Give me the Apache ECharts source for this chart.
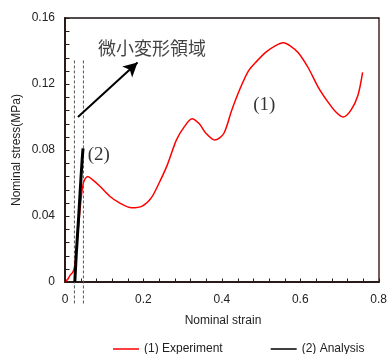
<!DOCTYPE html>
<html>
<head>
<meta charset="utf-8">
<script src="https://cdn.jsdelivr.net/npm/echarts@6/dist/echarts.min.js"></script>
<style>
  html, body { margin: 0; padding: 0; background: #fff; }
  #chart { width: 390px; height: 354px; }
</style>
</head>
<body>
<div id="chart"></div>
<script>
// Stress–strain curves: measured response and analysis in the small-strain range
const seriesNames = ['(1) Experiment', '(2) Analysis'];
const xAxisTitle = 'Nominal strain';
const yAxisTitle = 'Nominal stress(MPa)';

// (1) Experiment: [strain, stress MPa]
const experiment = [
  [0, 0], [0.008, 0.002], [0.013, 0.004], [0.02, 0.006], [0.025, 0.010],
  [0.03, 0.022], [0.035, 0.035], [0.04, 0.048], [0.045, 0.058], [0.05, 0.062],
  [0.058, 0.064], [0.07, 0.062], [0.089, 0.058], [0.114, 0.052], [0.139, 0.048],
  [0.17, 0.045], [0.197, 0.046], [0.22, 0.051], [0.24, 0.060], [0.261, 0.071],
  [0.284, 0.086], [0.304, 0.094], [0.324, 0.099], [0.342, 0.096], [0.36, 0.090],
  [0.382, 0.086], [0.405, 0.090], [0.425, 0.104], [0.448, 0.118], [0.468, 0.128],
  [0.486, 0.133], [0.511, 0.139], [0.535, 0.143], [0.557, 0.145], [0.575, 0.143],
  [0.595, 0.139], [0.62, 0.130], [0.646, 0.118], [0.671, 0.109], [0.691, 0.103],
  [0.709, 0.100], [0.729, 0.104], [0.747, 0.113], [0.759, 0.127]
];

// (2) Analysis: [strain, stress MPa]
const analysis = [
  [0.025, 0], [0.027, 0.009], [0.029, 0.018], [0.032, 0.029], [0.035, 0.040],
  [0.038, 0.052], [0.041, 0.064], [0.044, 0.075], [0.046, 0.081]
];

// Small-deformation region bounds (strain) and their drawn stress extent
const regionStrains = [0.024, 0.047];
const regionStressRange = [-0.013, 0.135];

// Arrow pointing at the region label: [strain, stress]
const arrowFrom = [0.033, 0.100];
const arrowTo = [0.185, 0.133];

// Text annotations: [strain, stress, text]
const regionLabel = [0.084, 0.142, '微小変形領域'];
const curveLabels = [[0.48, 0.107, '(1)'], [0.058, 0.077, '(2)']];

const xTicks = { min: 0, max: 0.8, interval: 0.2, minorSplit: 5 };
const yTicks = { min: 0, max: 0.16, interval: 0.04, minorSplit: 5 };

const axisColor = '#2b1a1a';
const textFont = 'Liberation Sans, Arial, sans-serif';
const tickLength = 4;

const chart = echarts.init(document.getElementById('chart'));

// Inward tick positions along each axis (major and minor)
function tickValues(t) {
  const step = t.interval / t.minorSplit;
  const n = Math.round((t.max - t.min) / step);
  const out = [];
  for (let i = 0; i <= n; i++) out.push(+(t.min + i * step).toFixed(6));
  return out;
}

// Tick marks drawn through the axis scales, pointing into the plot
function tickSeries(isX) {
  const values = tickValues(isX ? xTicks : yTicks);
  return {
    type: 'custom',
    name: 'ticks',
    silent: true,
    z: 4,
    data: values.map(v => isX ? [v, yTicks.min] : [xTicks.min, v]),
    renderItem: (params, api) => {
      const p = api.coord([api.value(0), api.value(1)]);
      const x = Math.round(p[0]) + 0.5, y = Math.round(p[1]) + 0.5;
      const shape = isX
        ? { x1: x, y1: y, x2: x, y2: y - tickLength }
        : { x1: x, y1: y, x2: x + tickLength, y2: y };
      return { type: 'line', shape: shape, style: { stroke: axisColor, lineWidth: 1 } };
    }
  };
}

const dashedSeries = regionStrains.map(s => ({
  type: 'line',
  name: 'region',
  data: [[s, regionStressRange[0]], [s, regionStressRange[1]]],
  symbol: 'none',
  clip: false,
  silent: true,
  lineStyle: { color: '#555', width: 1, type: [3, 2] },
  z: 1
}));

// Text placed at data positions through invisible scatter points
function textSeries(items, font, size, color) {
  return {
    type: 'scatter',
    name: 'text',
    silent: true,
    symbolSize: 0,
    data: items.map(d => ({ value: [d[0], d[1]], name: d[2] })),
    label: {
      show: true,
      position: 'right',
      distance: 0,
      formatter: p => p.name,
      fontFamily: font,
      fontSize: size,
      color: color,
      textBorderWidth: 0
    },
    z: 5
  };
}

function mainAxis(extra) {
  return Object.assign({
    type: 'value',
    axisLine: { show: true, lineStyle: { color: axisColor, width: 2 } },
    axisTick: { show: false },
    minorTick: { show: false },
    splitLine: { show: false }
  }, extra);
}

// Frame axes: top and right border lines only
function frameAxis(position, color, range) {
  return Object.assign({
    type: 'value',
    position: position,
    axisLine: { show: true, onZero: false, lineStyle: { color: color, width: 1.5 } },
    axisTick: { show: false },
    minorTick: { show: false },
    axisLabel: { show: false },
    splitLine: { show: false }
  }, range);
}

chart.setOption({
  animation: false,
  grid: { left: 65, right: 9, top: 18, bottom: 72 },
  legend: {
    data: seriesNames,
    left: 108,
    top: 338,
    icon: 'rect',
    itemWidth: 26,
    itemHeight: 1.5,
    itemGap: 48,
    textStyle: { fontFamily: textFont, fontSize: 12, color: '#222' }
  },
  graphic: [
    {
      type: 'text', x: 223, y: 321,
      style: { text: xAxisTitle, font: '12px ' + textFont, fill: '#222', textAlign: 'center', textVerticalAlign: 'middle' }
    },
    {
      type: 'text', x: 17, y: 150, rotation: Math.PI / 2,
      style: { text: yAxisTitle, font: '12px ' + textFont, fill: '#222', textAlign: 'center', textVerticalAlign: 'middle' }
    }
  ],
  xAxis: [
    mainAxis({
      min: xTicks.min, max: xTicks.max, interval: xTicks.interval,
      axisLabel: { fontFamily: textFont, fontSize: 12, color: '#222', margin: 12 }
    }),
    frameAxis('top', '#1a1010', { min: xTicks.min, max: xTicks.max })
  ],
  yAxis: [
    mainAxis({
      min: yTicks.min, max: yTicks.max, interval: yTicks.interval,
      axisLabel: { fontFamily: textFont, fontSize: 12, color: '#222', margin: 10 }
    }),
    frameAxis('right', '#4a2424', { min: yTicks.min, max: yTicks.max })
  ],
  series: [
    ...dashedSeries,
    tickSeries(true),
    tickSeries(false),
    {
      type: 'line',
      name: seriesNames[0],
      data: experiment,
      symbol: 'none',
      smooth: 0.3,
      lineStyle: { color: '#ff0000', width: 1.5 },
      itemStyle: { color: '#ff0000' },
      z: 2
    },
    {
      type: 'line',
      name: seriesNames[1],
      data: analysis,
      symbol: 'none',
      lineStyle: { color: '#000', width: 3 },
      itemStyle: { color: '#000' },
      z: 3
    },
    {
      type: 'line',
      name: 'arrow',
      data: [],
      markLine: {
        silent: true,
        symbol: ['none', 'arrow'],
        symbolSize: [11, 14],
        label: { show: false },
        lineStyle: { color: '#000', width: 2, type: 'solid' },
        data: [[{ coord: arrowFrom }, { coord: arrowTo }]]
      }
    },
    textSeries([regionLabel], '"Noto Sans CJK JP", sans-serif', 18, '#111'),
    textSeries(curveLabels, '"Liberation Serif", serif', 19, '#000')
  ]
});
</script>
</body>
</html>
